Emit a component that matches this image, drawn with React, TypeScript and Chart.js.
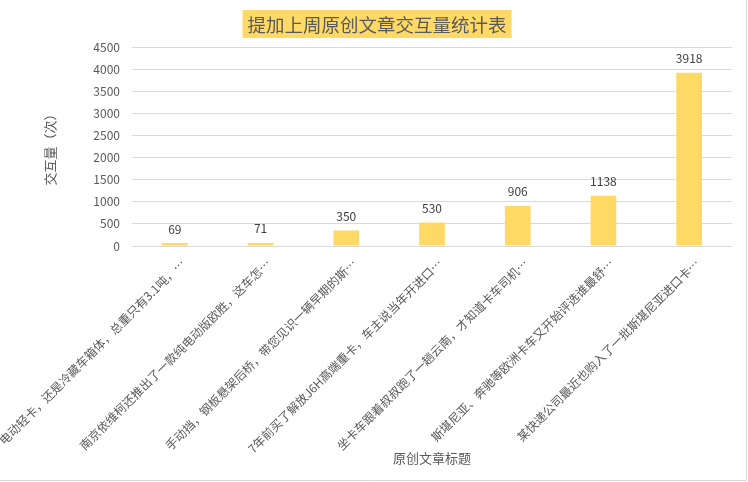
import { useEffect, useRef } from "react";
import { Chart, registerables } from "chart.js";
import type { Plugin } from "chart.js";

Chart.register(...registerables);

const chartTitle = "提加上周原创文章交互量统计表";
const yAxisTitle = "交互量（次）";
const xAxisTitle = "原创文章标题";

const articleTitles = [
  "电动轻卡，还是冷藏车箱体，总重只有3.1吨，…",
  "南京依维柯还推出了一款纯电动版欧胜，这车怎…",
  "手动挡，钢板悬架后桥，带您见识一辆早期的斯…",
  "7年前买了解放J6H高端重卡，车主说当年开进口…",
  "坐卡车跟着叔叔跑了一趟云南，才知道卡车司机…",
  "斯堪尼亚、奔驰等欧洲卡车又开始评选谁最舒…",
  "某快递公司最近也购入了一批斯堪尼亚进口卡…",
];
const interactions = [69, 71, 350, 530, 906, 1138, 3918];

const yMin = 0;
const yMax = 4500;
const yStep = 500;

const FONT = "'Noto Sans CJK SC', 'Noto Sans', sans-serif";
const GOLD = "#FFD966";
const TEXT = "#595959";
const GRID = "#d9d9d9";

// white background + thin frame on the right/bottom edge
const framePlugin: Plugin<"bar"> = {
  id: "frame",
  beforeDraw(chart) {
    const { ctx, width, height } = chart;
    ctx.save();
    ctx.fillStyle = "#ffffff";
    ctx.fillRect(0, 0, width, height);
    ctx.strokeStyle = GRID;
    ctx.lineWidth = 1;
    ctx.beginPath();
    ctx.moveTo(width - 1.5, 0);
    ctx.lineTo(width - 1.5, height - 1.5);
    ctx.lineTo(0, height - 1.5);
    ctx.stroke();
    ctx.restore();
  },
};

// title with a filled background box
const titleBoxPlugin: Plugin<"bar"> = {
  id: "titleBox",
  afterDraw(chart) {
    const { ctx, width } = chart;
    ctx.save();
    ctx.font = `18.5px ${FONT}`;
    const tw = ctx.measureText(chartTitle).width;
    const cx = width / 2 + 3;
    const boxW = tw + 10;
    ctx.fillStyle = GOLD;
    ctx.fillRect(cx - boxW / 2, 10, boxW, 28);
    ctx.fillStyle = TEXT;
    ctx.textAlign = "center";
    ctx.textBaseline = "middle";
    ctx.fillText(chartTitle, cx, 24.5);
    ctx.restore();
  },
};

// value labels above the bars
const valueLabelPlugin: Plugin<"bar"> = {
  id: "valueLabels",
  afterDatasetsDraw(chart) {
    const { ctx } = chart;
    const meta = chart.getDatasetMeta(0);
    const values = chart.data.datasets[0].data as number[];
    ctx.save();
    ctx.font = `12px ${FONT}`;
    ctx.fillStyle = "#404040";
    ctx.textAlign = "center";
    ctx.textBaseline = "middle";
    meta.data.forEach((bar, i) => {
      ctx.fillText(String(values[i]), bar.x, bar.y - 14);
    });
    ctx.restore();
  },
};

const App = () => {
  const chartRef = useRef<HTMLCanvasElement>(null);
  const chartInstance = useRef<Chart<"bar"> | null>(null);

  useEffect(() => {
    if (!chartRef.current) return;
    if (chartInstance.current) chartInstance.current.destroy();
    const ctx = chartRef.current.getContext("2d");
    if (!ctx) return;

    chartInstance.current = new Chart(ctx, {
      type: "bar",
      data: {
        labels: articleTitles,
        datasets: [
          {
            label: yAxisTitle,
            data: interactions,
            backgroundColor: GOLD,
            borderWidth: 0,
            categoryPercentage: 1,
            barPercentage: 0.3,
          },
        ],
      },
      options: {
        responsive: false,
        animation: false,
        layout: {
          padding: { top: 47, right: 16, bottom: 0, left: 0 },
        },
        plugins: {
          legend: { display: false },
          title: { display: false },
          tooltip: { enabled: false },
        },
        scales: {
          x: {
            grid: { display: false },
            border: { display: false },
            ticks: {
              autoSkip: false,
              minRotation: 45,
              maxRotation: 45,
              labelOffset: 8,
              padding: 2,
              color: TEXT,
              font: { family: FONT, size: 12 },
            },
            title: {
              display: true,
              text: xAxisTitle,
              color: TEXT,
              font: { family: FONT, size: 13 },
              padding: { top: 0, bottom: 16 },
            },
            afterFit: (scale) => {
              scale.height = 236;
              scale.paddingLeft = 0;
              scale.paddingRight = 0;
            },
          },
          y: {
            min: yMin,
            max: yMax,
            grid: { color: GRID, drawTicks: false },
            border: { display: false },
            ticks: {
              stepSize: yStep,
              padding: 12,
              color: TEXT,
              font: { family: FONT, size: 12 },
              callback: (value) => String(value),
            },
            title: {
              display: true,
              text: yAxisTitle,
              color: TEXT,
              font: { family: FONT, size: 13 },
              padding: { top: 42, bottom: 0 },
            },
            afterFit: (scale) => {
              scale.width = 132;
            },
          },
        },
      },
      plugins: [framePlugin, titleBoxPlugin, valueLabelPlugin],
    });

    return () => {
      if (chartInstance.current) {
        chartInstance.current.destroy();
        chartInstance.current = null;
      }
    };
  }, []);

  return (
    <div style={{ position: "fixed", left: 0, top: 0, width: 748, height: 482, background: "#fff" }}>
      <canvas ref={chartRef} width={748} height={482} style={{ width: 748, height: 482 }} />
    </div>
  );
};

export default App;
